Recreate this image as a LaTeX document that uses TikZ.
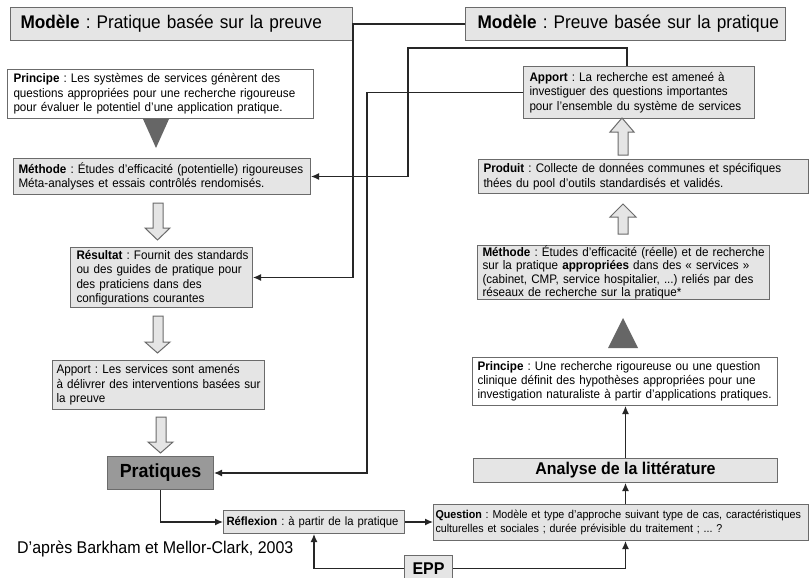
\documentclass[tikz,border=0pt]{standalone}
\usepackage{fontspec}
\setmainfont[FakeStretch=0.94]{Liberation Sans}
\usetikzlibrary{arrows.meta}
\definecolor{bord}{gray}{0.42}
\definecolor{boxfill}{gray}{0.9}
\definecolor{pratfill}{gray}{0.6}
\definecolor{trifill}{gray}{0.4}
\newcommand\Lr[1]{\mbox{#1}}
\frenchspacing
\tikzset{
  box/.style={draw=bord, line width=1pt, fill=boxfill, anchor=north west, align=left,
    inner ysep=0pt, font=\fontsize{12.4}{14.5}\selectfont},
  titlebox/.style={box, font=\fontsize{18.3}{20}\selectfont},
  boldbox/.style={box, align=center, inner xsep=0pt},
  conn/.style={draw=black!85, line width=1.2pt, -{Latex[length=8pt,width=7pt]}},
  hollow/.style={draw=bord, line width=1pt, fill=boxfill},
  tri/.style={fill=trifill, draw=none},
}
\begin{document}
\begin{tikzpicture}[x=1pt,y=-1pt]
\useasboundingbox (0,0) rectangle (809,578);
\clip (0,0) rectangle (809,578);
\fill[white] (0,0) rectangle (809,578);

% left column
\node[titlebox, minimum width=342pt, minimum height=33pt, inner xsep=10pt, text width=322pt] (titleL) at (10,7)
  {\Lr{\textbf{Modèle} : Pratique basée sur la preuve}};
\node[box, fill=white, minimum width=306pt, minimum height=49pt, inner xsep=6pt, text width=294pt] (prinL) at (7,69)
  {\Lr{\textbf{Principe} : Les systèmes de services génèrent des}\\
   \Lr{questions appropriées pour une recherche rigoureuse}\\
   \Lr{pour évaluer le potentiel d’une application pratique.}};
\node[box, minimum width=297pt, minimum height=36pt, inner xsep=5pt, text width=287pt] (methL) at (13,158)
  {\Lr{\textbf{Méthode} : Études d’efficacité (potentielle) rigoureuses}\\
   \Lr{Méta-analyses et essais contrôlés rendomisés.}};
\node[box, minimum width=182pt, minimum height=60pt, inner xsep=6pt, text width=170pt] (resL) at (70,247)
  {\Lr{\textbf{Résultat} : Fournit des standards}\\
   \Lr{ou des guides de pratique pour}\\
   \Lr{des praticiens dans des}\\
   \Lr{configurations courantes}};
\node[box, minimum width=212pt, minimum height=49pt, inner xsep=4pt, text width=204pt] (appL) at (52,360)
  {\Lr{Apport : Les services sont amenés}\\
   \Lr{à délivrer des interventions basées sur}\\
   \Lr{la preuve}};
\node[boldbox, fill=pratfill, minimum width=106pt, minimum height=33pt, font=\fontsize{19}{21}\selectfont\bfseries] (prat) at (107,456)
  {Pratiques};

% bottom row
\node[box, minimum width=181pt, minimum height=23pt, inner xsep=3pt, text width=175pt, font=\fontsize{12}{13}\selectfont] (refl) at (223,510)
  {\Lr{\textbf{Réflexion} : à partir de la pratique}};
\node[box, minimum width=375pt, minimum height=36pt, inner xsep=2pt, text width=371pt, font=\fontsize{11.4}{14}\selectfont] (quest) at (433,504)
  {\Lr{\textbf{Question} : Modèle et type d’approche suivant type de cas, caractéristiques}\\
   \Lr{culturelles et sociales ; durée prévisible du traitement ; ... ?}};
\node[boldbox, minimum width=48pt, minimum height=26pt, font=\fontsize{17}{18}\selectfont\bfseries] (epp) at (404,555) {EPP};
\node[anchor=west, inner sep=0pt, font=\fontsize{17}{18}\selectfont] (credit) at (17,549) {D’après Barkham et Mellor-Clark, 2003};

% right column
\node[titlebox, minimum width=320pt, minimum height=33pt, inner xsep=12pt, text width=296pt] (titleR) at (465,7)
  {\Lr{\textbf{Modèle} : Preuve basée sur la pratique}};
\node[box, minimum width=231pt, minimum height=52pt, inner xsep=6pt, text width=219pt] (appR) at (523,66)
  {\Lr{\textbf{Apport} : La recherche est ameneé à}\\
   \Lr{investiguer des questions importantes}\\
   \Lr{pour l’ensemble du système de services}};
\node[box, minimum width=330pt, minimum height=34pt, inner xsep=5pt, text width=320pt] (prodR) at (478,159)
  {\Lr{\textbf{Produit} : Collecte de données communes et spécifiques}\\
   \Lr{thées du pool d'outils standardisés et validés.}};
\node[box, minimum width=292pt, minimum height=53pt, inner xsep=5pt, text width=282pt, font=\fontsize{12.4}{13.5}\selectfont] (methR) at (477,245)
  {\Lr{\textbf{Méthode} : Études d'efficacité (réelle) et de recherche}\\
   \Lr{sur la pratique \textbf{appropriées} dans des « services »}\\
   \Lr{(cabinet, CMP, service hospitalier, ...) reliés par des}\\
   \Lr{réseaux de recherche sur la pratique*}};
\node[box, fill=white, minimum width=305pt, minimum height=48pt, inner xsep=5pt, text width=295pt, font=\fontsize{12.4}{14}\selectfont] (prinR) at (472,357)
  {\Lr{\textbf{Principe} : Une recherche rigoureuse ou une question}\\
   \Lr{clinique définit des hypothèses appropriées pour une}\\
   \Lr{investigation naturaliste à partir d'applications pratiques.}};
\node[boldbox, minimum width=304pt, minimum height=24pt, font=\fontsize{17}{18}\selectfont\bfseries] (analyse) at (473,458)
  {Analyse de la littérature};

% solid triangles
\fill[tri] (143,119) -- (169,119) -- (156,148) -- cycle;
\fill[tri] (608,348) -- (638,348) -- (623,318) -- cycle;

% hollow block arrows (down, left column)
\draw[hollow] (153,203) -- (163,203) -- (163,228) -- (170,228) -- (157.5,240) -- (145,228) -- (153,228) -- cycle;
\draw[hollow] (153,316) -- (163,316) -- (163,342) -- (170,342) -- (157.5,353) -- (145,342) -- (153,342) -- cycle;
\draw[hollow] (156,417) -- (166,417) -- (166,442) -- (173,442) -- (160.5,453) -- (148,442) -- (156,442) -- cycle;
% hollow block arrows (up, right column)
\draw[hollow] (618,155) -- (628,155) -- (628,132) -- (634,132) -- (622,118) -- (610,132) -- (618,132) -- cycle;
\draw[hollow] (618,234) -- (628,234) -- (628,217) -- (636,217) -- (623,204) -- (610,217) -- (618,217) -- cycle;

% connectors
\draw[conn] (titleR.west) -- ++(-112,0) |- (resL.east);
\draw[conn] ([xshift=104pt]appR.north west) |- (408,48) |- (methL.east);
\draw[conn] (appR.west) -- ++(-156,0) |- (prat.east);
\draw[conn] (prat.south) |- (refl.west);
\draw[conn] (refl.east) -- (quest.west |- refl.east);
\draw[conn] (quest.north -| analyse.south) -- (analyse.south);
\draw[conn] (analyse.north) -- (prinR.south -| analyse.north);
\draw[conn] (epp.east) -| (analyse.south |- quest.south);
\draw[conn] (epp.west) -| (refl.south);
\end{tikzpicture}
\end{document}
